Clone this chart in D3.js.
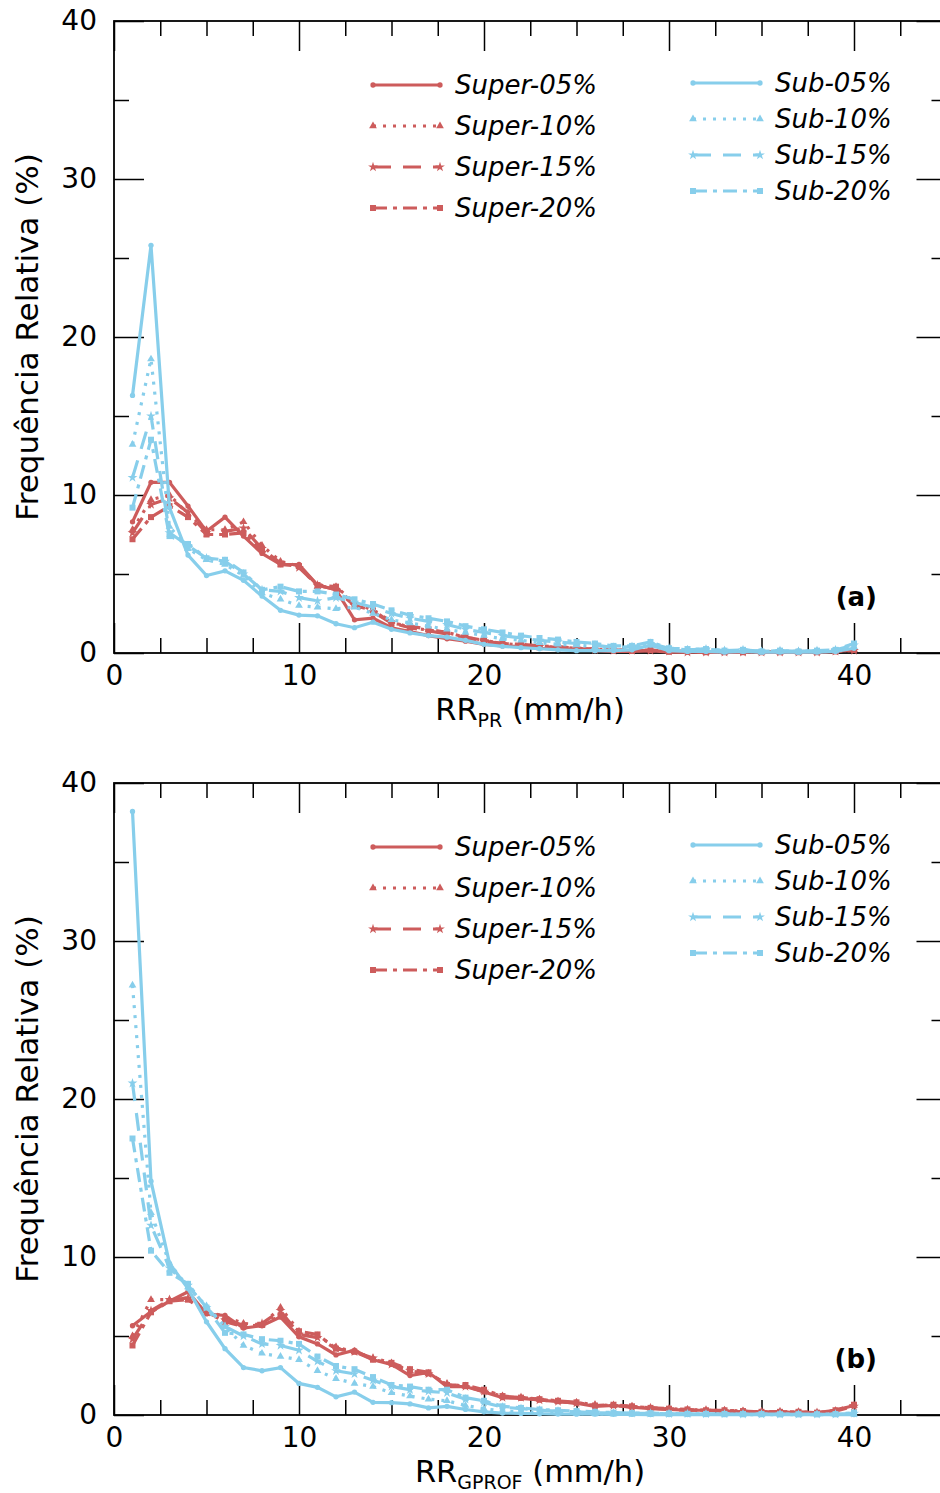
<!DOCTYPE html>
<html>
<head>
<meta charset="utf-8">
<script src="https://cdn.jsdelivr.net/npm/d3@7"></script>
<style>
body{margin:0;background:#fff}
text{font-family:"DejaVu Sans",sans-serif}
</style>
</head>
<body>
<script>
// rain rate classes (mm/h)
const rainRates = [1,2,3,4,5,6,7,8,9,10,11,12,13,14,15,16,17,18,19,20,
                   21,22,23,24,25,26,27,28,29,30,31,32,33,34,35,36,37,38,39,40];
const xMajorTicks = [0,10,20,30,40];
const yMajorTicks = [0,10,20,30,40];
const xMinorTicks = [2.5,5,7.5,12.5,15,17.5,22.5,25,27.5,32.5,35,37.5,42.5];
const yMinorTicks = [5,15,25,35];
const seriesNames = ["Super-05%","Super-10%","Super-15%","Super-20%","Sub-05%","Sub-10%","Sub-15%","Sub-20%"];

// panel (a) RR_PR
const superA05 = [8.3,10.8,10.8,9.3,7.7,8.6,7.4,6.3,5.6,5.6,4.3,4.0,2.1,2.2,1.6,1.35,1.1,0.9,0.75,0.55,0.45,0.4,0.3,0.25,0.25,0.15,0.1,0.1,0.15,0.05,0.05,0.05,0.05,0.05,0.05,0.05,0.05,0.05,0.1,0.2];
const superA10 = [7.8,9.7,10.0,8.8,7.8,7.8,8.3,6.8,5.8,5.5,4.2,4.2,3.2,2.7,2.0,1.6,1.45,1.3,1.0,0.8,0.6,0.5,0.45,0.35,0.3,0.25,0.2,0.15,0.2,0.1,0.1,0.05,0.05,0.1,0.05,0.05,0.05,0.05,0.1,0.2];
const superA15 = [7.6,9.4,9.8,8.9,7.6,7.7,7.9,6.6,5.7,5.4,4.3,4.0,3.0,2.6,1.9,1.6,1.4,1.2,0.95,0.75,0.6,0.5,0.4,0.35,0.3,0.2,0.15,0.15,0.15,0.1,0.05,0.05,0.05,0.05,0.05,0.05,0.05,0.05,0.1,0.15];
const superA20 = [7.2,8.6,9.3,8.6,7.5,7.5,7.6,6.5,5.6,5.5,4.3,4.2,3.0,2.7,1.9,1.7,1.5,1.3,1.0,0.8,0.6,0.55,0.45,0.4,0.3,0.25,0.2,0.15,0.2,0.1,0.1,0.05,0.05,0.05,0.05,0.05,0.05,0.05,0.1,0.2];
const subA05 = [16.3,25.8,9.2,6.2,4.9,5.2,4.6,3.6,2.7,2.4,2.35,1.85,1.6,1.95,1.5,1.27,1.1,1.0,0.8,0.55,0.42,0.34,0.27,0.2,0.15,0.15,0.15,0.2,0.5,0.15,0.1,0.1,0.05,0.1,0.05,0.05,0.05,0.05,0.1,0.3];
const subA10 = [13.2,18.6,8.0,6.6,5.9,5.6,4.9,3.8,3.4,3.0,2.9,2.8,2.9,2.5,2.1,1.9,1.7,1.5,1.3,1.1,0.9,0.8,0.65,0.55,0.5,0.4,0.3,0.35,0.5,0.25,0.2,0.2,0.15,0.15,0.1,0.1,0.1,0.1,0.15,0.4];
const subA15 = [11.1,15.0,7.6,6.8,6.0,5.8,5.0,4.0,3.9,3.5,3.3,3.5,3.2,2.9,2.5,2.2,2.0,1.8,1.5,1.3,1.1,0.95,0.8,0.7,0.6,0.5,0.35,0.4,0.6,0.3,0.2,0.25,0.15,0.2,0.1,0.15,0.1,0.15,0.2,0.5];
const subA20 = [9.2,13.5,7.4,6.9,6.0,5.9,5.1,4.0,4.2,3.9,3.9,3.7,3.4,3.1,2.7,2.4,2.2,2.0,1.7,1.5,1.3,1.1,0.95,0.85,0.7,0.6,0.45,0.45,0.7,0.3,0.25,0.25,0.15,0.2,0.1,0.15,0.1,0.15,0.2,0.6];

// panel (b) RR_GPROF
const superB05 = [5.65,6.55,7.2,7.8,6.4,6.3,5.5,5.65,6.2,4.95,4.5,3.8,4.1,3.5,3.2,2.5,2.7,1.8,1.8,1.45,1.1,1.05,0.95,0.85,0.75,0.55,0.6,0.5,0.4,0.35,0.3,0.3,0.25,0.2,0.2,0.2,0.15,0.15,0.3,0.6];
const superB10 = [5.0,7.3,7.3,7.3,6.6,6.2,5.8,5.7,6.8,5.3,5.0,4.3,4.0,3.6,3.3,2.8,2.6,2.0,1.8,1.5,1.2,1.1,1.0,0.85,0.8,0.65,0.6,0.55,0.45,0.4,0.35,0.3,0.3,0.25,0.2,0.2,0.2,0.15,0.25,0.6];
const superB15 = [4.8,6.6,7.3,7.4,6.5,6.0,5.7,5.8,6.6,5.1,4.9,4.2,4.0,3.6,3.2,2.8,2.6,1.9,1.8,1.5,1.1,1.1,0.95,0.85,0.75,0.6,0.6,0.5,0.45,0.35,0.3,0.3,0.25,0.2,0.2,0.2,0.15,0.15,0.25,0.55];
const superB20 = [4.4,6.5,7.2,7.3,6.5,5.9,5.6,5.7,6.3,5.3,5.1,4.2,4.0,3.5,3.3,2.9,2.7,1.9,1.9,1.6,1.2,1.1,1.0,0.9,0.8,0.6,0.65,0.55,0.45,0.4,0.35,0.3,0.3,0.25,0.2,0.2,0.2,0.15,0.3,0.65];
const subB05 = [38.2,14.8,9.6,8.0,5.9,4.2,3.0,2.8,3.0,2.0,1.75,1.15,1.45,0.8,0.78,0.7,0.45,0.55,0.35,0.2,0.12,0.1,0.08,0.06,0.05,0.05,0.04,0.04,0.03,0.03,0.03,0.03,0.02,0.02,0.02,0.02,0.02,0.02,0.02,0.03];
const subB10 = [27.2,12.8,9.6,8.1,6.9,5.6,4.4,3.9,3.7,3.5,2.8,2.3,2.0,1.8,1.4,1.2,1.0,0.9,0.6,0.4,0.25,0.2,0.15,0.12,0.1,0.08,0.07,0.06,0.05,0.05,0.04,0.04,0.04,0.03,0.03,0.03,0.03,0.03,0.03,0.05];
const subB15 = [21.0,12.0,9.3,8.2,6.8,5.6,5.0,4.5,4.4,4.1,3.4,2.8,2.6,2.2,1.8,1.6,1.5,1.4,1.0,0.8,0.5,0.4,0.3,0.25,0.2,0.15,0.12,0.1,0.1,0.08,0.07,0.06,0.06,0.05,0.05,0.05,0.04,0.04,0.05,0.1];
const subB20 = [17.5,10.4,9.0,8.3,6.8,5.2,5.1,4.8,4.7,4.5,3.7,3.1,2.9,2.4,1.9,1.8,1.6,1.6,1.1,0.9,0.55,0.45,0.35,0.3,0.25,0.2,0.15,0.12,0.12,0.1,0.08,0.07,0.07,0.06,0.06,0.05,0.05,0.05,0.06,0.15];

const red = "#cd5c5c", blue = "#87ceeb";
// style per series: 05 solid+circle, 10 dotted+triangle, 15 dashed+star, 20 dashdot+square
const styles = [
	{dash:null, sym:d3.symbolCircle, size:22},
	{dash:"3,7", sym:d3.symbolTriangle, size:26},
	{dash:"18,12", sym:d3.symbolStar, size:30},
	{dash:"14,6,4,6", sym:d3.symbolSquare, size:36}
];

const svg = d3.select("body").append("svg")
			.attr("width",940)
			.attr("height",1493);

const x = d3.scaleLinear().domain([0,45]).range([114,946.5]);

const panels = [
	{top:21, bottom:653, sub:"PR", tag:"(a)", data:[superA05,superA10,superA15,superA20,subA05,subA10,subA15,subA20]},
	{top:783, bottom:1415, sub:"GPROF", tag:"(b)", data:[superB05,superB10,superB15,superB20,subB05,subB10,subB15,subB20]}
];

panels.forEach(function(p){
	var y = d3.scaleLinear().domain([0,40]).range([p.bottom,p.top]);
	var g = svg.append("g");

	// ticks, all pointing inward
	function styleAxis(a){
		a.select(".domain").remove();
		a.selectAll(".tick line").attr("stroke","#000").attr("stroke-width",1.5);
		a.selectAll("text").attr("font-size",28).attr("font-family","DejaVu Sans").attr("fill","#000");
	}
	var bx = g.append("g").attr("transform","translate(0,"+p.bottom+")")
				.call(d3.axisBottom(x).tickValues(xMajorTicks).tickSize(-30).tickPadding(12).tickFormat(d3.format("d")));
	styleAxis(bx);
	styleAxis(g.append("g").attr("transform","translate(0,"+p.bottom+")")
				.call(d3.axisBottom(x).tickValues(xMinorTicks).tickSize(-15).tickFormat("")));
	styleAxis(g.append("g").attr("transform","translate(0,"+p.top+")")
				.call(d3.axisTop(x).tickValues(xMajorTicks).tickSize(-30).tickFormat("")));
	styleAxis(g.append("g").attr("transform","translate(0,"+p.top+")")
				.call(d3.axisTop(x).tickValues(xMinorTicks).tickSize(-15).tickFormat("")));
	var ly = g.append("g").attr("transform","translate(114,0)")
				.call(d3.axisLeft(y).tickValues(yMajorTicks).tickSize(-30).tickPadding(17).tickFormat(d3.format("d")));
	styleAxis(ly);
	styleAxis(g.append("g").attr("transform","translate(114,0)")
				.call(d3.axisLeft(y).tickValues(yMinorTicks).tickSize(-15).tickFormat("")));
	styleAxis(g.append("g").attr("transform","translate(946.5,0)")
				.call(d3.axisRight(y).tickValues(yMajorTicks).tickSize(-30).tickFormat("")));
	styleAxis(g.append("g").attr("transform","translate(946.5,0)")
				.call(d3.axisRight(y).tickValues(yMinorTicks).tickSize(-15).tickFormat("")));

	g.append("rect")
		.attr("x",114).attr("y",p.top)
		.attr("width",946.5-114).attr("height",p.bottom-p.top)
		.attr("fill","none").attr("stroke","#000").attr("stroke-width",1.8);

	// series
	var line = d3.line().x(function(d,i){return x(rainRates[i])}).y(function(d){return y(d)});
	p.data.forEach(function(vals,k){
		var st = styles[k%4], col = k<4 ? red : blue;
		var sg = g.append("g");
		sg.append("path")
			.attr("d",line(vals))
			.attr("fill","none")
			.attr("stroke",col)
			.attr("stroke-width",3.2)
			.attr("stroke-dasharray",st.dash);
		sg.selectAll("path.m").data(vals).enter().append("path")
			.attr("class","m")
			.attr("d",d3.symbol().type(st.sym).size(st.size))
			.attr("transform",function(d,i){return "translate("+x(rainRates[i])+","+y(d)+")"})
			.attr("fill",col);
	});

	// legend
	var leg = g.append("g");
	seriesNames.forEach(function(name,k){
		var st = styles[k%4], col = k<4 ? red : blue;
		var x0 = k<4 ? 373 : 693, x1 = x0+67;
		var ry = k<4 ? p.top+64+41*k : p.top+62+36*(k-4);
		leg.append("line")
			.attr("x1",x0).attr("x2",x1).attr("y1",ry).attr("y2",ry)
			.attr("stroke",col).attr("stroke-width",3.2)
			.attr("stroke-dasharray",st.dash);
		[x0,x1].forEach(function(mx){
			leg.append("path")
				.attr("d",d3.symbol().type(st.sym).size(st.size))
				.attr("transform","translate("+mx+","+ry+")")
				.attr("fill",col);
		});
		leg.append("text")
			.attr("x",x1+15).attr("y",ry).attr("dy","0.36em")
			.attr("font-size",26).attr("font-style","italic")
			.text(name);
	});

	g.append("text")
		.attr("x",877).attr("y",p.bottom-56).attr("dy","0.36em")
		.attr("text-anchor","end").attr("font-size",26).attr("font-weight","bold")
		.text(p.tag);

	// axis titles
	var xt = g.append("text")
		.attr("x",530).attr("y",p.bottom+67)
		.attr("text-anchor","middle").attr("font-size",30.5);
	xt.append("tspan").text("RR");
	xt.append("tspan").attr("font-size",19).attr("dy",7).text(p.sub);
	xt.append("tspan").attr("dy",-7).text(" (mm/h)");

	g.append("text")
		.attr("transform","translate(38,"+(p.top+p.bottom)/2+") rotate(-90)")
		.attr("text-anchor","middle").attr("font-size",31)
		.text("Frequência Relativa (%)");
});
</script>
</body>
</html>
